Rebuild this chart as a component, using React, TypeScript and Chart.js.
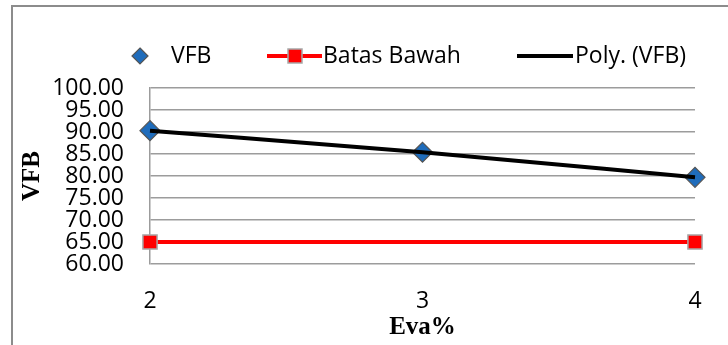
import React, { useEffect, useRef } from "react";
import { Chart, registerables } from "chart.js";

Chart.register(...registerables);

const categories = ["2", "3", "4"];
const vfbValues = [90.3, 85.4, 79.7];
const batasBawahValues = [65, null, 65];
const polyValues = [90.3, 85.4, 79.7];
const yMin = 60;
const yMax = 100;
const yStep = 5;
const xTitle = "Eva%";
const yTitle = "VFB";
const legendLabels = ["VFB", "Batas Bawah", "Poly. (VFB)"];

const BLUE = "#1f6cbb";
const RED = "#ff0000";
const GRID = "#9c9c9c";
const TICK_FONT = { family: "'Open Sans'", size: 23 };

const decorPlugin = {
  id: "decor",
  afterDraw(chart: any) {
    const ctx = chart.ctx as CanvasRenderingContext2D;
    const area = chart.chartArea;
    ctx.save();
    // frame
    ctx.strokeStyle = "#8c8c8c";
    ctx.lineWidth = 2;
    ctx.beginPath();
    ctx.moveTo(12, 345);
    ctx.lineTo(12, 6);
    ctx.lineTo(728, 6);
    ctx.stroke();

    // legend
    const ly = 56;
    ctx.font = "23px 'Open Sans'";
    ctx.fillStyle = "#000";
    ctx.textBaseline = "middle";
    ctx.textAlign = "left";
    // VFB diamond
    ctx.beginPath();
    ctx.moveTo(140, ly - 8);
    ctx.lineTo(148, ly);
    ctx.lineTo(140, ly + 8);
    ctx.lineTo(132, ly);
    ctx.closePath();
    ctx.fillStyle = BLUE;
    ctx.fill();
    ctx.strokeStyle = "#555";
    ctx.lineWidth = 1.2;
    ctx.stroke();
    ctx.fillStyle = "#000";
    ctx.fillText(legendLabels[0], 171, ly);
    // Batas Bawah
    ctx.strokeStyle = RED;
    ctx.lineWidth = 4;
    ctx.beginPath();
    ctx.moveTo(267, ly);
    ctx.lineTo(322, ly);
    ctx.stroke();
    ctx.fillStyle = RED;
    ctx.fillRect(288, ly - 7, 14, 14);
    ctx.strokeStyle = "#a8a8a8";
    ctx.lineWidth = 1.5;
    ctx.strokeRect(288, ly - 7, 14, 14);
    ctx.fillStyle = "#000";
    ctx.fillText(legendLabels[1], 323, ly);
    // Poly
    ctx.strokeStyle = "#000";
    ctx.lineWidth = 4;
    ctx.beginPath();
    ctx.moveTo(517, ly);
    ctx.lineTo(573, ly);
    ctx.stroke();
    ctx.fillText(legendLabels[2], 575, ly);

    // axis titles
    ctx.font = "bold 25px 'Liberation Serif'";
    ctx.textAlign = "center";
    ctx.textBaseline = "middle";
    ctx.fillText(xTitle, (area.left + area.right) / 2, 328);
    ctx.translate(33, (area.top + area.bottom) / 2);
    ctx.rotate(-Math.PI / 2);
    ctx.fillText(yTitle, 0, 0);
    ctx.restore();
  },
};

export default function App() {
  const ref = useRef<HTMLCanvasElement | null>(null);

  useEffect(() => {
    if (!ref.current) return;
    const chart = new Chart(ref.current, {
      type: "line",
      data: {
        labels: categories,
        datasets: [
          {
            label: legendLabels[2],
            data: polyValues,
            borderColor: "#000",
            borderWidth: 4,
            pointRadius: 0,
            cubicInterpolationMode: "monotone",
            fill: false,
            order: 0,
            clip: false,
          } as any,
          {
            label: legendLabels[0],
            data: vfbValues,
            showLine: false,
            pointStyle: "rectRot",
            pointRadius: 10,
            pointBackgroundColor: BLUE,
            pointBorderColor: "#555",
            pointBorderWidth: 1.2,
            order: 1,
            clip: false,
          } as any,
          {
            label: legendLabels[1],
            data: batasBawahValues,
            spanGaps: true,
            borderColor: RED,
            borderWidth: 4,
            pointStyle: "rect",
            pointRadius: 10,
            pointBackgroundColor: RED,
            pointBorderColor: "#a8a8a8",
            pointBorderWidth: 1.5,
            fill: false,
            order: 2,
            clip: false,
          } as any,
        ],
      },
      options: {
        animation: false,
        responsive: false,
        maintainAspectRatio: false,
        layout: { padding: { left: 0, top: 88, right: 33, bottom: 0 } },
        plugins: {
          legend: { display: false },
          tooltip: { enabled: false },
          title: { display: false },
        },
        scales: {
          x: {
            type: "category",
            offset: false,
            grid: { display: false, drawTicks: false },
            border: { display: false },
            ticks: { color: "#000", font: TICK_FONT, padding: 24, maxRotation: 0 },
            afterFit: (s: any) => {
              s.height = 81;
            },
          },
          y: {
            min: yMin,
            max: yMax,
            grid: { color: GRID, lineWidth: 1.5, drawTicks: false },
            border: { display: true, color: GRID, width: 1.5 },
            ticks: {
              stepSize: yStep,
              autoSkip: false,
              color: "#000",
              font: TICK_FONT,
              padding: 26,
              callback: (v: any) => Number(v).toFixed(2),
            },
            afterFit: (s: any) => {
              s.width = 150;
            },
          },
        },
      } as any,
      plugins: [decorPlugin],
    });
    return () => chart.destroy();
  }, []);

  return (
    <div style={{ position: "absolute", left: 0, top: 0, width: 728, height: 345, background: "#fff" }}>
      <canvas ref={ref} width={728} height={345} style={{ width: 728, height: 345, display: "block" }} />
    </div>
  );
}
